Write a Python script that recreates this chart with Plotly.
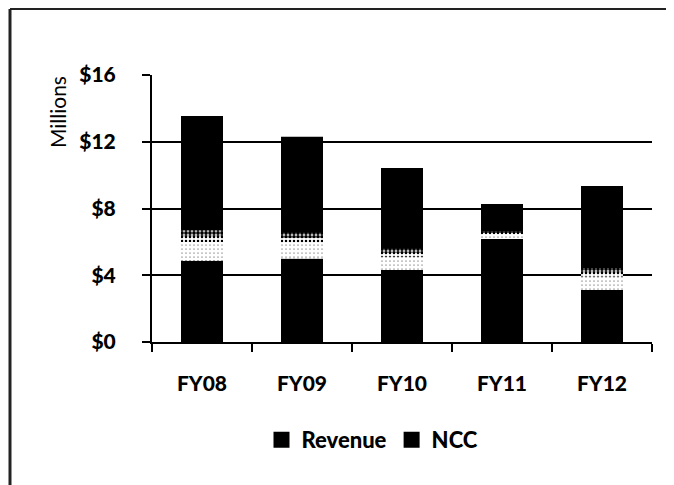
import plotly.graph_objects as go

# ---- data (values in $ millions) ----
categories = ["FY08", "FY09", "FY10", "FY11", "FY12"]
revenue = [4.87, 5.01, 4.31, 6.17, 3.12]
ncc = [8.67, 7.29, 6.12, 2.10, 6.23]
y_tickvals = [0, 4, 8, 12, 16]
y_ticktext = ["$0", "$4", "$8", "$12", "$16"]

FONT = "Lato, 'Open Sans', sans-serif"
BAR_W = 0.42

fig = go.Figure()

fig.add_trace(go.Bar(
    name="Revenue", x=categories, y=revenue, base=[0] * len(revenue),
    width=BAR_W, showlegend=False, marker=dict(color="black", line=dict(width=0)),
))
fig.add_trace(go.Bar(
    name="NCC", x=categories, y=ncc, base=revenue,
    width=BAR_W, showlegend=False, marker=dict(color="black", line=dict(width=0)),
))

# faded lower part of the NCC gradient fill (drawn from the NCC values)
fade_bands = [  # (fraction of NCC height from its base, speckle density)
    (0.21, 0.7),
    (0.17, 0.3),
    (0.13, 0.05),
]
for frac, dens in fade_bands:
    fig.add_trace(go.Bar(
        x=categories, y=[v * frac for v in ncc], base=revenue, width=BAR_W,
        showlegend=False, hoverinfo="skip",
        marker=dict(color="white", line=dict(width=0),
                    pattern=dict(shape=".", fgcolor="black", bgcolor="white",
                                 size=4, solidity=dens, fillmode="replace")),
    ))

# legend entries (larger square swatches, as in the original)
for name in ["Revenue", "NCC"]:
    fig.add_trace(go.Scatter(
        x=[None], y=[None], mode="markers", name=name,
        marker=dict(symbol="square", size=16, color="black"),
    ))

fig.update_layout(
    width=674, height=485,
    barmode="overlay",
    paper_bgcolor="white", plot_bgcolor="white",
    margin=dict(l=144, r=30, t=67, b=151),
    font=dict(family=FONT, color="black"),
    showlegend=True,
    legend=dict(orientation="h", x=0.441, xanchor="center", y=-0.367, yanchor="middle",
                font=dict(family=FONT, size=22, color="black", weight=900),
                traceorder="normal", itemwidth=30, bgcolor="rgba(0,0,0,0)"),
)

fig.update_xaxes(
    type="category", showgrid=False, showline=True, linecolor="black", linewidth=2,
    ticks="outside", tickson="boundaries", ticklen=8, tickwidth=2, tickcolor="black",
    tickfont=dict(family=FONT, size=21, color="black", weight=900),
    ticklabelstandoff=22,
)
fig.update_yaxes(
    range=[0, 16], tickvals=y_tickvals, ticktext=y_ticktext,
    showgrid=True, gridcolor="black", gridwidth=2,
    showline=True, linecolor="black", linewidth=2,
    ticks="outside", ticklen=8, tickwidth=2, tickcolor="black",
    tickfont=dict(family=FONT, size=21, color="black", weight=900),
    ticklabelstandoff=22, zeroline=False,
)

fig.add_annotation(
    text="Millions", xref="paper", yref="paper", x=-0.19, y=0.861,
    showarrow=False, textangle=-90, xanchor="center", yanchor="middle",
    font=dict(family=FONT, size=21, color="black"),
)

# outer chart frame (left and top edges visible)
fig.add_shape(type="line", xref="paper", yref="paper",
              x0=-0.284, x1=-0.284, y0=1.247, y1=-0.6,
              line=dict(color="#222222", width=3))
fig.add_shape(type="line", xref="paper", yref="paper",
              x0=-0.284, x1=1.1, y0=1.247, y1=1.247,
              line=dict(color="#222222", width=2))

fig.write_html("out.html")
